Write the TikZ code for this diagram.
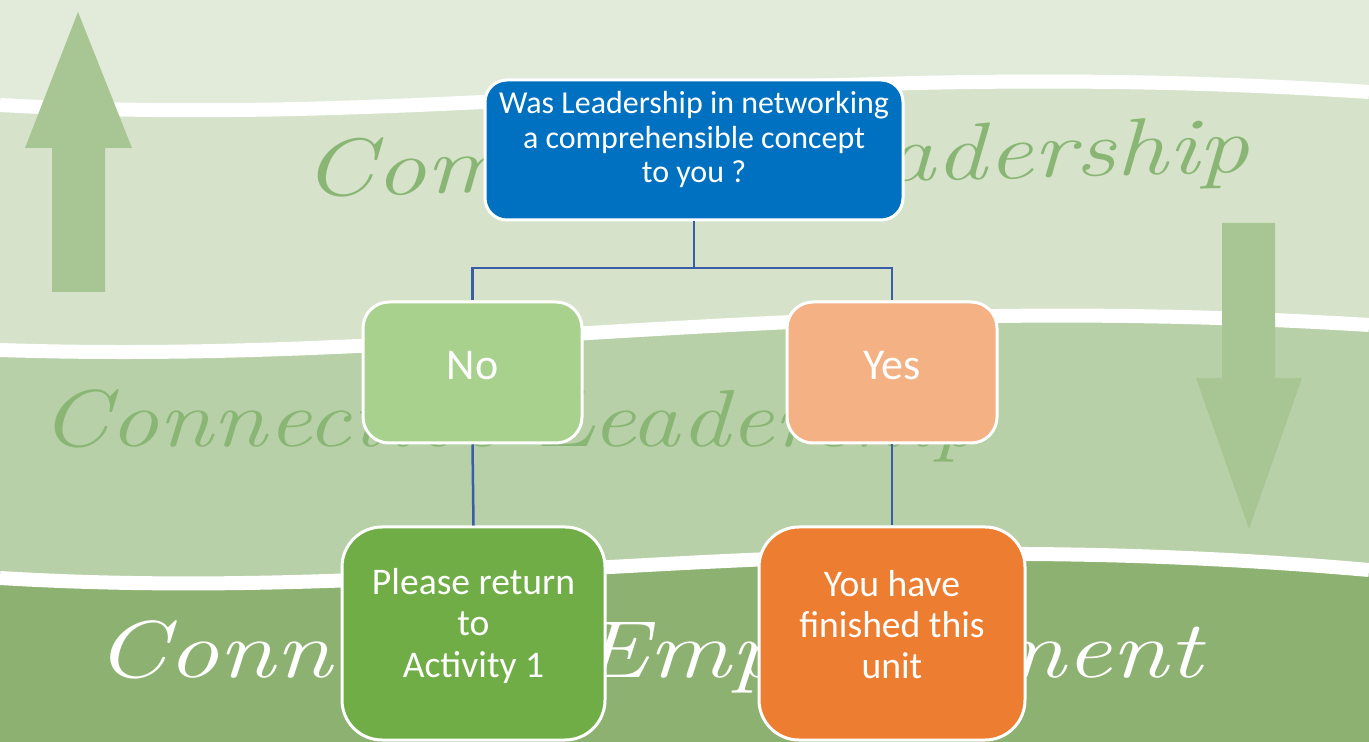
\documentclass[tikz,border=0pt]{standalone}
\usepackage{fontspec}
\setmainfont{Carlito}
\usetikzlibrary{positioning,calc}
\definecolor{bandA}{HTML}{E2EBDA}
\definecolor{bandB}{HTML}{D6E3CA}
\definecolor{bandC}{HTML}{B8D0A7}
\definecolor{bandD}{HTML}{8CB170}
\definecolor{arrowgreen}{HTML}{A8C594}
\definecolor{markgreen}{HTML}{8AB675}
\definecolor{qblue}{HTML}{0070C0}
\definecolor{nogreen}{HTML}{A9D18E}
\definecolor{yesorange}{HTML}{F4B183}
\definecolor{backgreen}{HTML}{70AD47}
\definecolor{doneorange}{HTML}{ED7D31}
\definecolor{linkblue}{HTML}{3A5DA8}
\newfontfamily\markfont{Latin Modern Roman}
\newcommand{\lowline}[1]{\rule[-#1]{0pt}{0pt}}
\tikzset{
  font={\fontsize{21.4pt}{23.5pt}\selectfont}}

\begin{document}
\begin{tikzpicture}[x=0.02cm,y=-0.02cm,
    block_base/.style ={rectangle, draw=white, line width=3*0.02cm, text=white,
      align=center, inner sep=0pt},
    block_question/.style ={block_base, fill=qblue, minimum width=418*0.02cm,
      minimum height=140*0.02cm, rounded corners=22*0.02cm,
      font={\fontsize{18.2pt}{19.6pt}\selectfont}},
    block_answer/.style ={block_base, minimum height=141*0.02cm,
      rounded corners=26*0.02cm, font={\fontsize{25pt}{27pt}\selectfont}},
    block_result/.style ={block_base, minimum height=213*0.02cm,
      rounded corners=40*0.02cm},
    wave/.style ={draw=white, line width=14*0.02cm},
    watermark/.style ={anchor=base west, inner sep=0pt, transform shape,
      font={\markfont\itshape\fontsize{46pt}{50pt}\selectfont}},
    paths2/.style={draw=linkblue, line width=2.5*0.02cm}]
    \useasboundingbox (0,0) rectangle (1369,742);
    % background bands
    \fill[bandA] (0,0) rectangle (1369,742);
    \fill[bandB] (0,105) .. controls (450,130) and (800,55) .. (1369,92)
      -- (1369,742) -- (0,742) -- cycle;
    \fill[bandC] (0,350) .. controls (450,365) and (800,290) .. (1369,325)
      -- (1369,742) -- (0,742) -- cycle;
    \fill[bandD] (0,578) .. controls (450,605) and (800,520) .. (1369,570)
      -- (1369,742) -- (0,742) -- cycle;
    \path[wave] (0,105) .. controls (450,130) and (800,55) .. (1369,92);
    \path[wave] (0,350) .. controls (450,365) and (800,290) .. (1369,325);
    \path[wave] (0,578) .. controls (450,605) and (800,520) .. (1369,570);
    % watermark texts
    \node[watermark, text=markgreen, rotate=1.5, xscale=1.27] (mark1) at (303,197) {Command Leadership};
    \node[watermark, text=markgreen, xscale=1.22] (mark2) at (40,447) {Connective Leadership};
    \node[watermark, text=white, xscale=1.27] (mark3) at (95,678) {Connected Empowerment};
    % big arrows
    \fill[arrowgreen] (52,292) -- (52,148) -- (25,148) -- (78,12) -- (132,148)
      -- (105,148) -- (105,292) -- cycle;
    \fill[arrowgreen] (1222,223) -- (1275,223) -- (1275,378) -- (1302,378)
      -- (1249,529) -- (1196,378) -- (1222,378) -- cycle;
    % question - row 1
    \node[block_question] (q) at (694,150) {Was Leadership in networking\\ a comprehensible concept\\ to you ?\lowline{14.7pt}};
    % answers - row 2
    \node[block_answer, fill=nogreen, minimum width=219*0.02cm] (no) at (472.5,372.5) {No\lowline{7.9pt}};
    \node[block_answer, fill=yesorange, minimum width=210*0.02cm] (yes) at (892,372.5) {Yes\lowline{7.9pt}};
    % results - row 3
    \node[block_result, fill=backgreen, minimum width=263*0.02cm] (back) at (473.5,633.5) {Please return\\ to\\ Activity 1\lowline{12.2pt}};
    \node[block_result, fill=doneorange, minimum width=266*0.02cm] (done) at (892,633.5) {You have\\ finished this\\ unit\lowline{10.2pt}};
    \coordinate (split) at (694,268);
    % connecting nodes with paths
    \begin{scope}[every path/.style=paths2]
      \path (q.south) -- (split) -| (no.north);
      \path (split) -| (yes.north);
      \path (no.south) -- (back.north);
      \path (yes.south) -- (done.north);
    \end{scope}
\end{tikzpicture}
\end{document}
